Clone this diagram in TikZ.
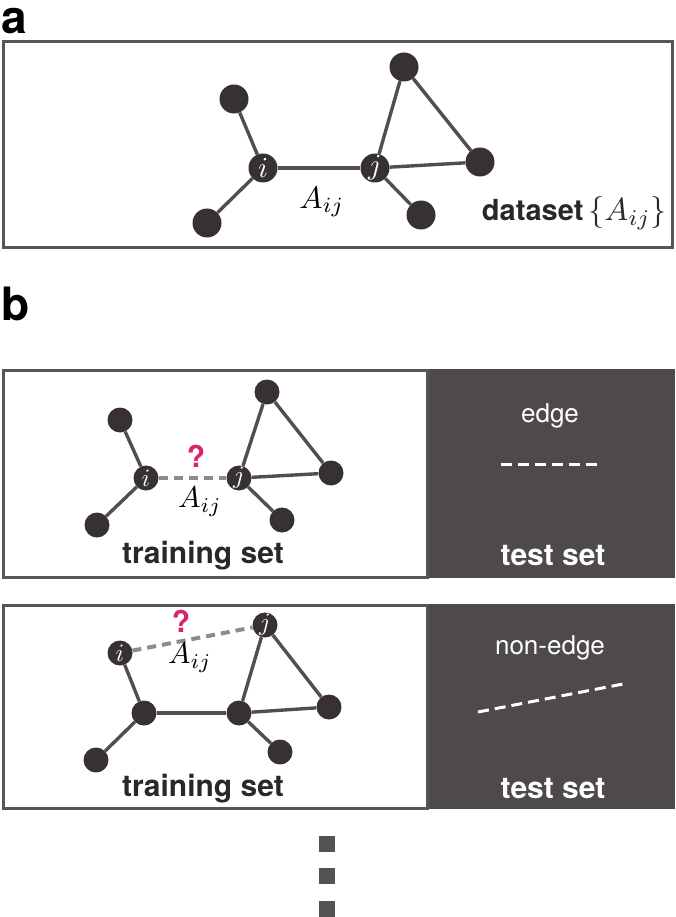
\RequirePackage{fix-cm}
\documentclass[tikz,border=0pt]{standalone}
\usepackage{graphicx}
\usepackage{fontspec}
\setmainfont{TeX Gyre Heros}
\definecolor{nodefill}{HTML}{383131}
\definecolor{edgegray}{HTML}{4F4F4F}
\definecolor{framegray}{HTML}{565656}
\definecolor{panelgray}{HTML}{4E4A4B}
\definecolor{dashgray}{HTML}{8C8C8C}
\definecolor{qmag}{HTML}{D9236F}
\definecolor{txtdark}{HTML}{2B2726}
\definecolor{dotgray}{HTML}{545152}
\newcommand{\scmath}[2]{\scalebox{#1}{$#2$}}
\begin{document}
\begin{tikzpicture}[x=1pt,y=-1pt,
  vtx/.style={circle, fill=nodefill, inner sep=0pt, minimum size=29pt, text=white, font=\fontsize{10}{12}\selectfont},
  svtx/.style={vtx, minimum size=25pt},
  lnk/.style={draw=edgegray, line width=3.4pt},
  qlink/.style={draw=dashgray, line width=4pt, dash pattern=on 9pt off 6pt},
  wlink/.style={draw=white, line width=3pt, dash pattern=on 11pt off 6pt},
  frame/.style={draw=framegray, line width=3pt},
  bigtxt/.style={text=txtdark, font=\bfseries\fontsize{30}{30}\selectfont, inner sep=0pt},
  datatxt/.style={text=txtdark, font=\bfseries\fontsize{29}{29}\selectfont, inner sep=0pt},
  whitebig/.style={text=white, font=\bfseries\fontsize{30}{30}\selectfont, inner sep=0pt},
  whitesmall/.style={text=white, font=\fontsize{26}{26}\selectfont, inner sep=0pt},
  mathlbl/.style={text=black, font=\fontsize{10}{12}\selectfont, inner sep=0pt},
  qmark/.style={text=qmag, font=\bfseries\fontsize{30}{30}\selectfont, inner sep=0pt},
  panellbl/.style={text=black, font=\bfseries\fontsize{46}{46}\selectfont, inner sep=0pt, anchor=base west},
  dotsq/.style={fill=dotgray, draw=none}
]
\useasboundingbox (0,0) rectangle (675,917);

% ---------- panel a ----------
\node[panellbl] (la) at (1,34) {a};
\draw[frame] (3,42) rectangle (672,247);
\node[vtx] (atl) at (234,99) {};
\node[vtx] (ai) at (263,168) {\scmath{2.9}{i}};
\node[vtx] (abl) at (207,223) {};
\node[vtx] (aj) at (375,168) {\scmath{2.9}{j}};
\node[vtx] (atr) at (404,67) {};
\node[vtx] (ar) at (480,162) {};
\node[vtx] (abr) at (421,215) {};
\draw[lnk] (atl) -- (ai);
\draw[lnk] (abl) -- (ai);
\draw[lnk] (ai) -- (aj);
\draw[lnk] (aj) -- (atr);
\draw[lnk] (atr) -- (ar);
\draw[lnk] (aj) -- (ar);
\draw[lnk] (aj) -- (abr);
\node[mathlbl] (aA) at (322,202) {\scmath{3.1}{A_{ij}}};
\node[datatxt, anchor=east] (adata) at (667,213) {dataset\,{\fontsize{10}{12}\selectfont\scmath{3.2}{\{A_{ij}\}}}};

% ---------- panel b ----------
\node[panellbl] (lb) at (1,320) {b};

% b1
\fill[panelgray] (427,369) rectangle (675,578);
\draw[frame] (3,370) rectangle (427,577);
\node[svtx] (btl) at (120,420) {};
\node[svtx] (bi) at (146,478) {\scmath{2.5}{i}};
\node[svtx] (bbl) at (97,525) {};
\node[svtx] (bj) at (239,478) {\scmath{2.5}{j}};
\node[svtx] (btr) at (267,392) {};
\node[svtx] (br) at (331,473) {};
\node[svtx] (bbr) at (282,520) {};
\draw[lnk] (btl) -- (bi);
\draw[lnk] (bbl) -- (bi);
\draw[qlink] (bi) -- (bj);
\draw[lnk] (bj) -- (btr);
\draw[lnk] (btr) -- (br);
\draw[lnk] (bj) -- (br);
\draw[lnk] (bj) -- (bbr);
\node[qmark] (bq) at (196,456) {?};
\node[mathlbl] (bA) at (200,502) {\scmath{3.0}{A_{ij}}};
\node[bigtxt] (btrain) at (203,556) {training set};
\node[whitesmall] (bedge) at (550,416) {edge};
\coordinate (bw1) at (501,464);
\coordinate (bw2) at (598,464);
\draw[wlink] (bw1) -- (bw2);
\node[whitebig] (btest) at (553,556) {test set};

% b2
\fill[panelgray] (427,604) rectangle (675,809);
\draw[frame] (3,605) rectangle (427,808);
\node[svtx] (ci) at (120,653) {\scmath{2.5}{i}};
\node[svtx] (cj) at (265,625) {\scmath{2.5}{j}};
\node[svtx] (clm) at (144,713) {};
\node[svtx] (cmm) at (239,713) {};
\node[svtx] (cr) at (329,707) {};
\node[svtx] (cbl) at (96,760) {};
\node[svtx] (cbr) at (280,752) {};
\draw[lnk] (ci) -- (clm);
\draw[lnk] (clm) -- (cbl);
\draw[lnk] (clm) -- (cmm);
\draw[lnk] (cmm) -- (cj);
\draw[lnk] (cj) -- (cr);
\draw[lnk] (cmm) -- (cr);
\draw[lnk] (cmm) -- (cbr);
\draw[qlink] (ci) -- (cj);
\node[qmark] (cq) at (181,621) {?};
\node[mathlbl] (cA) at (190,658) {\scmath{3.0}{A_{ij}}};
\node[bigtxt] (ctrain) at (203,789) {training set};
\node[whitesmall] (cedge) at (550,648) {non-edge};
\coordinate (cw1) at (478,712);
\coordinate (cw2) at (623,684);
\draw[wlink] (cw1) -- (cw2);
\node[whitebig] (ctest) at (553,789) {test set};

% ellipsis squares
\fill[dotsq] (319,836) rectangle (335,852);
\fill[dotsq] (319,868) rectangle (335,884);
\fill[dotsq] (319,901) rectangle (335,917);
\end{tikzpicture}
\end{document}
